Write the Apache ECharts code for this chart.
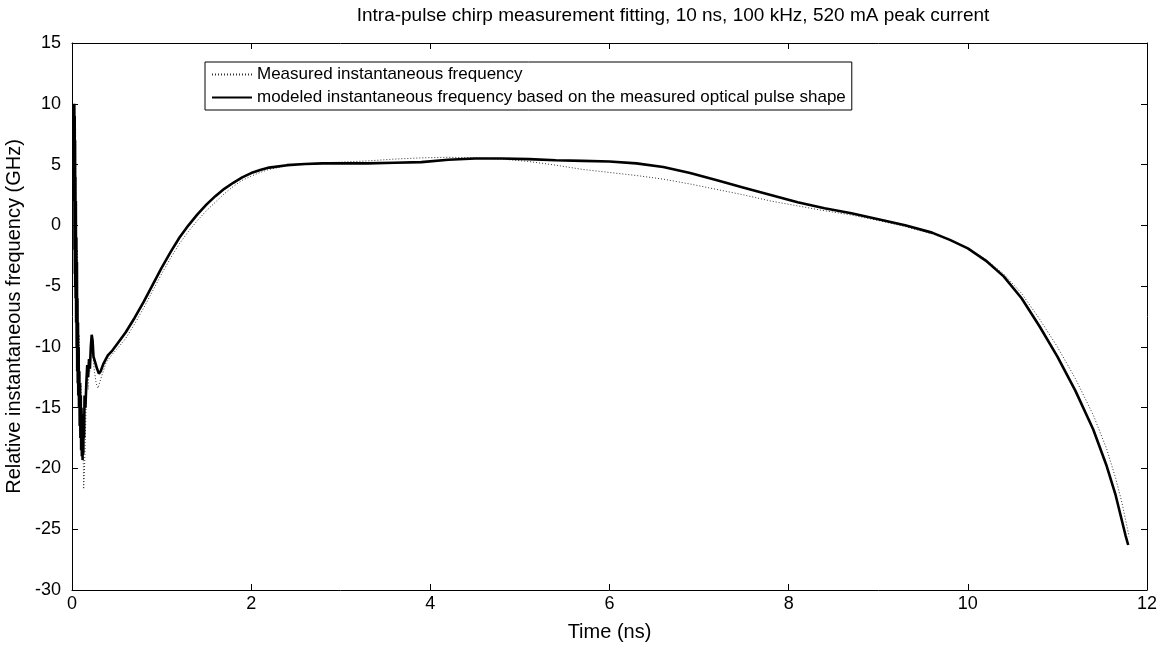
<!DOCTYPE html>
<html>
<head>
<meta charset="utf-8">
<script src="https://cdn.jsdelivr.net/npm/echarts@6/dist/echarts.min.js"></script>
<style>
  html, body { margin: 0; padding: 0; background: #fff; }
  #chart { width: 1172px; height: 645px; }
</style>
</head>
<body>
<div id="chart"></div>
<script>
// Intra-pulse chirp: measured vs. modeled instantaneous frequency
const chartTitle = 'Intra-pulse chirp measurement fitting, 10 ns, 100 kHz, 520 mA peak current';
const seriesNames = [
  'Measured instantaneous frequency',
  'modeled instantaneous frequency based on the measured optical pulse shape'
];

// Time axis ticks (ns) and frequency axis ticks (GHz)
const xTicks = [0, 2, 4, 6, 8, 10, 12];
const yTicks = [-30, -25, -20, -15, -10, -5, 0, 5, 10, 15];

// Measured instantaneous frequency
const timeMeasured = [0.02,0.025,0.03,0.04,0.05,0.06,0.07,0.08,0.09,0.10,0.11,0.12,0.13,0.14,0.15,0.16,0.17,0.18,0.19,0.20,0.21,0.22,0.23,0.25,0.27,0.29,0.31,0.34,0.38,0.45,0.50,0.60,0.70,0.80,0.90,1.00,1.10,1.20,1.30,1.40,1.50,1.60,1.70,1.80,1.90,2.00,2.10,2.20,2.40,2.60,2.80,3.00,3.30,3.60,3.90,4.20,4.50,4.80,5.10,5.40,5.70,6.00,6.30,6.60,6.90,7.20,7.50,7.80,8.10,8.40,8.70,9.00,9.30,9.60,9.80,10.00,10.20,10.40,10.60,10.80,11.00,11.20,11.40,11.55,11.65,11.72,11.76,11.80];
const freqMeasured = [3,9,-3,8,-8,-2,-14,-9,-16,-13,-19,-16,-21.7,-20,-17,-14,-12.5,-13.5,-11.5,-12,-10.5,-9.6,-10.5,-12,-13,-13.4,-12.9,-12.2,-11.3,-10.6,-10.2,-9.3,-8.1,-6.8,-5.4,-4.0,-2.7,-1.5,-0.5,0.4,1.2,1.9,2.6,3.2,3.7,4.05,4.35,4.6,4.9,5.05,5.15,5.2,5.3,5.45,5.55,5.6,5.55,5.45,5.25,4.95,4.6,4.35,4.1,3.8,3.4,2.95,2.5,2.0,1.6,1.2,0.85,0.4,-0.1,-0.7,-1.2,-1.9,-2.8,-4.0,-5.6,-7.7,-10.0,-12.6,-15.6,-18.4,-20.8,-22.8,-24.2,-25.6];

// Modeled instantaneous frequency from the measured optical pulse shape
const timeModeled = [0.020,0.022,0.024,0.026,0.028,0.030,0.032,0.034,0.036,0.038,0.040,0.043,0.046,0.049,0.052,0.055,0.058,0.061,0.064,0.067,0.070,0.074,0.078,0.082,0.086,0.090,0.094,0.098,0.102,0.106,0.110,0.114,0.118,0.122,0.126,0.130,0.135,0.140,0.150,0.160,0.170,0.180,0.190,0.200,0.210,0.220,0.230,0.240,0.260,0.280,0.300,0.320,0.350,0.400,0.450,0.500,0.600,0.700,0.800,0.900,1.000,1.100,1.200,1.300,1.400,1.500,1.600,1.700,1.800,1.900,2.000,2.100,2.200,2.400,2.600,2.800,3.000,3.300,3.600,3.900,4.200,4.500,4.800,5.100,5.400,5.700,6.000,6.300,6.600,6.900,7.200,7.500,7.800,8.100,8.400,8.700,9.000,9.300,9.600,9.800,10.000,10.200,10.400,10.600,10.800,11.000,11.200,11.400,11.550,11.650,11.720,11.760,11.790];
const freqModeled = [2,10,3,10,-2,9,-4,7,-5,4,-6,2,-8,-1,-10,-3,-12,-6,-13,-8,-14,-10,-15,-12,-16.5,-13,-17.5,-14,-18.5,-15,-19,-15.5,-19.3,-16,-18.8,-15.5,-17.5,-14,-15,-13,-11.5,-12.5,-11,-11.8,-10,-9,-9.5,-10.8,-11.3,-11.8,-12.2,-12,-11.4,-10.7,-10.3,-9.8,-8.8,-7.6,-6.3,-4.9,-3.5,-2.2,-1.0,0.0,0.9,1.7,2.4,3.0,3.5,3.95,4.3,4.55,4.75,4.95,5.05,5.1,5.1,5.1,5.15,5.2,5.4,5.5,5.5,5.45,5.35,5.3,5.25,5.1,4.8,4.3,3.7,3.1,2.5,1.9,1.4,1.0,0.5,0.0,-0.6,-1.2,-1.9,-2.9,-4.2,-6.0,-8.3,-10.8,-13.6,-16.8,-19.8,-22.2,-24.3,-25.5,-26.3];

const pairs = (xs, ys) => xs.map((x, i) => [x, ys[i]]);

const FONT = 'Liberation Sans, Arial, sans-serif';
const axisLine = { show: true, onZero: false, lineStyle: { color: '#000', width: 1 } };
const tickIn = { show: true, inside: true, length: 6, lineStyle: { color: '#000', width: 1 } };

const chart = echarts.init(document.getElementById('chart'), null, { renderer: 'canvas' });
chart.setOption({
  backgroundColor: '#fff',
  animation: false,
  title: {
    text: chartTitle,
    left: 668,
    textAlign: 'center',
    top: 1,
    textStyle: { fontFamily: FONT, fontSize: 19, fontWeight: 'normal', color: '#000' }
  },
  legend: {
    data: seriesNames,
    orient: 'vertical',
    left: 205,
    top: 62,
    itemWidth: 40,
    itemHeight: 10,
    itemGap: 6,
    padding: [4, 6, 4, 6],
    borderColor: '#000',
    borderWidth: 1,
    backgroundColor: '#fff',
    itemStyle: { opacity: 0 },
    textStyle: { fontFamily: FONT, fontSize: 17, color: '#000' }
  },
  grid: { left: 72, right: 25, top: 43, bottom: 55, containLabel: false, outerBoundsMode: 'none' },
  xAxis: [
    {
      type: 'value', min: 0, max: 12, interval: 2, position: 'bottom',
      name: 'Time (ns)', nameLocation: 'middle', nameGap: 32,
      nameTextStyle: { fontFamily: FONT, fontSize: 20, color: '#000' },
      axisLine: axisLine, axisTick: tickIn, splitLine: { show: false },
      axisLabel: { fontFamily: FONT, fontSize: 18, color: '#000', margin: 5 }
    },
    {
      type: 'value', min: 0, max: 12, interval: 2, position: 'top',
      axisLine: axisLine, axisTick: tickIn, splitLine: { show: false },
      axisLabel: { show: false }
    }
  ],
  yAxis: [
    {
      type: 'value', min: -30, max: 15, interval: 5, position: 'left',
      name: 'Relative instantaneous frequency (GHz)', nameLocation: 'middle', nameGap: 35,
      nameRotate: 90,
      nameTextStyle: { fontFamily: FONT, fontSize: 20, color: '#000' },
      axisLine: axisLine, axisTick: tickIn, splitLine: { show: false },
      axisLabel: { fontFamily: FONT, fontSize: 18, color: '#000', margin: 11 }
    },
    {
      type: 'value', min: -30, max: 15, interval: 5, position: 'right',
      axisLine: axisLine, axisTick: tickIn, splitLine: { show: false },
      axisLabel: { show: false }
    }
  ],
  series: [
    {
      name: seriesNames[0],
      type: 'line',
      data: pairs(timeMeasured, freqMeasured),
      symbol: 'none',
      smooth: false,
      itemStyle: { color: '#333' },
      lineStyle: { color: '#333', width: 1, type: [1, 2] },
      z: 2
    },
    {
      name: seriesNames[1],
      type: 'line',
      data: pairs(timeModeled, freqModeled),
      symbol: 'none',
      smooth: false,
      itemStyle: { color: '#000' },
      lineStyle: { color: '#000', width: 2.6 },
      z: 3
    }
  ]
});
</script>
</body>
</html>
